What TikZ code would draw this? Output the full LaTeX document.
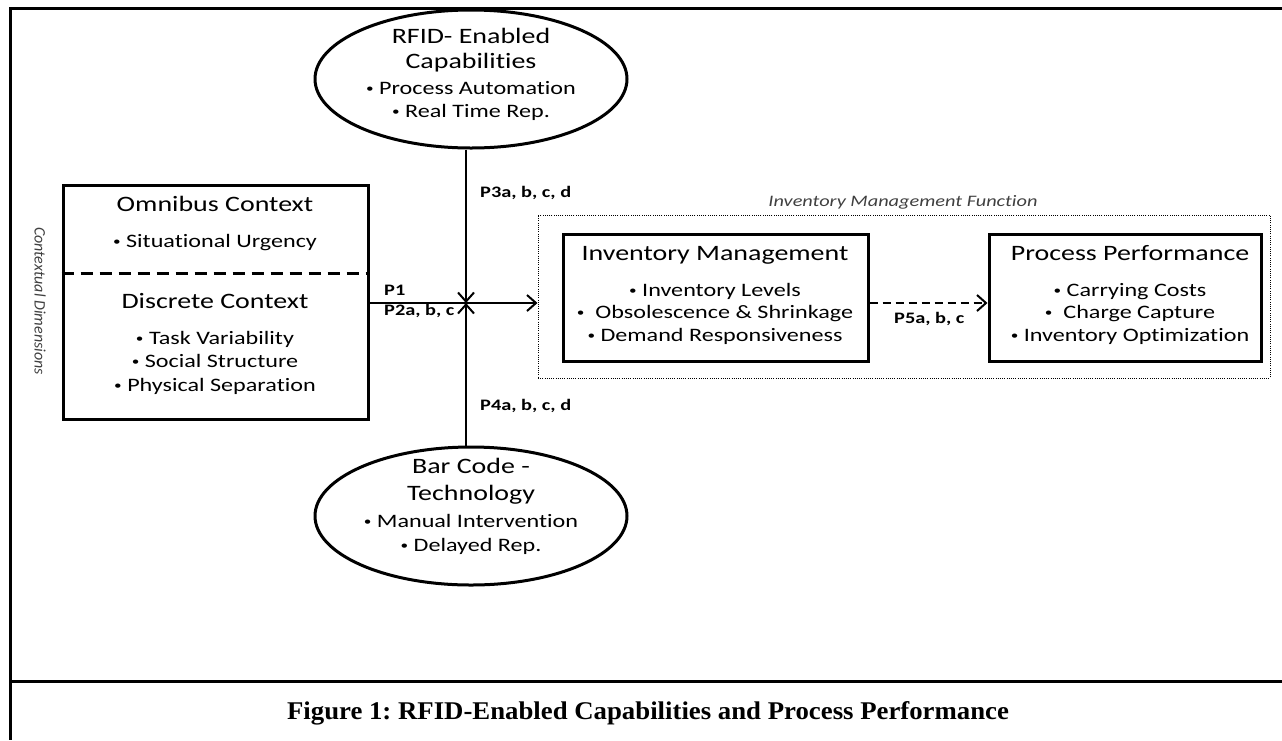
\documentclass[tikz,border=0pt]{standalone}
\usepackage{fontspec}
\usetikzlibrary{shapes.geometric,arrows.meta,positioning}
\newfontfamily\calib{Carlito}[FakeStretch=1.27, Ligatures=NoCommon]
\newfontfamily\calibplain{Carlito}[Ligatures=NoCommon]
\newfontfamily\capfont{Liberation Serif}[FakeStretch=1.05]
\definecolor{textgray}{RGB}{64,64,64}
\newcommand\bul{\raisebox{2.2pt}{\fontsize{12}{12}\selectfont•}}

\tikzset{
  head/.style={font=\calib\fontsize{22}{26}\selectfont, inner sep=0pt, text height=15pt, text depth=5pt},
  item/.style={font=\calib\fontsize{19}{23}\selectfont, inner sep=0pt, text height=13pt, text depth=4pt},
  plabel/.style={font=\calib\bfseries\fontsize{16}{19}\selectfont, anchor=west, inner sep=0pt},
  note/.style={text=textgray, inner sep=0pt},
  box/.style={draw, line width=3pt, rectangle, inner sep=0pt},
  oval/.style={draw, line width=3pt, ellipse, minimum width=312pt, minimum height=138pt, inner sep=0pt},
  link/.style={line width=2pt, -{Straight Barb[length=9pt,width=16pt]}},
}

\begin{document}
\begin{tikzpicture}[x=1pt, y=-1pt]
    \useasboundingbox (0,0) rectangle (1282,740);

    % Frame and caption
    \draw[line width=3pt] (1282,8) -- (10,8) -- (10,740);
    \draw[line width=3pt] (10,681) -- (1282,681);
    \node[font=\capfont\bfseries\fontsize{25.5}{30}\selectfont\frenchspacing] (caption) at (648,713)
        {Figure 1: RFID-Enabled Capabilities and Process Performance};

    % RFID-enabled capabilities
    \node[oval] (rfid) at (471,79) {};
    \node[head] (rfidA) at (471,38) {RFID- Enabled};
    \node[head] (rfidB) at (471,63) {Capabilities};
    \node[item] (rfidC) at (471,90) {\bul\ Process Automation};
    \node[item] (rfidD) at (471,113) {\bul\ Real Time Rep.};

    % Bar code technology
    \node[oval] (bar) at (471,516) {};
    \node[head] (barA) at (471,468) {Bar Code -};
    \node[head] (barB) at (471,495) {Technology};
    \node[item] (barC) at (471,523) {\bul\ Manual Intervention};
    \node[item] (barD) at (471,547) {\bul\ Delayed Rep.};

    % Context box
    \node[box, minimum width=305pt, minimum height=234pt] (ctx) at (215.5,302) {};
    \node[head] (omni) at (215,206) {Omnibus Context};
    \node[item] (omniA) at (215,243) {\bul\ Situational Urgency};
    \coordinate (split) at (215,273);
    \draw[line width=3pt, dash pattern=on 12pt off 7pt] (ctx.west |- split) -- (ctx.east |- split);
    \node[head] (disc) at (215,303) {Discrete Context};
    \node[item] (discA) at (215,340) {\bul\ Task Variability};
    \node[item] (discB) at (215,363) {\bul\ Social Structure};
    \node[item] (discC) at (215,387) {\bul\ Physical Separation};
    \node[note, font=\calibplain\itshape\fontsize{16}{19}\selectfont, rotate=-90] (ctxdim) at (40,301) {Contextual Dimensions};

    % Inventory management function
    \node[draw, line width=1pt, dash pattern=on 1pt off 1.2pt, minimum width=732pt, minimum height=163pt] (imf) at (904,296.5) {};
    \node[note, font=\calib\itshape\fontsize{16}{19}\selectfont] (imflbl) at (903,202) {Inventory Management Function};

    \node[box, minimum width=305pt, minimum height=127pt] (inv) at (715.5,297.5) {};
    \node[head] (invA) at (715,255) {Inventory Management};
    \node[item] (invB) at (715,292) {\bul\ Inventory Levels};
    \node[item] (invC) at (715,314) {\bul\ \ Obsolescence \& Shrinkage};
    \node[item] (invD) at (715,337) {\bul\ Demand Responsiveness};

    \node[box, minimum width=272pt, minimum height=127pt] (perf) at (1125,297.5) {};
    \node[head] (perfA) at (1130,255) {Process Performance};
    \node[item] (perfB) at (1130,292) {\bul\ Carrying Costs};
    \node[item] (perfC) at (1130,314) {\bul\ \ Charge Capture};
    \node[item] (perfD) at (1130,337) {\bul\ Inventory Optimization};

    % Connectors
    \coordinate (cross) at (466,303);
    \draw[link] (ctx.east |- cross) -- (imf.west |- cross);
    \draw[link] (rfid.south -| cross) -- (cross);
    \draw[link] (bar.north -| cross) -- (cross);
    \draw[link, dash pattern=on 8pt off 5pt] (inv.east |- cross) -- (perf.west |- cross);

    % Proposition labels
    \node[plabel] (p1) at (384,290) {P1};
    \node[plabel] (p2) at (384,311) {P2a, b, c};
    \node[plabel] (p3) at (480,193) {P3a, b, c, d};
    \node[plabel] (p4) at (480,406) {P4a, b, c, d};
    \node[plabel] (p5) at (894,319) {P5a, b, c};

\end{tikzpicture}
\end{document}
